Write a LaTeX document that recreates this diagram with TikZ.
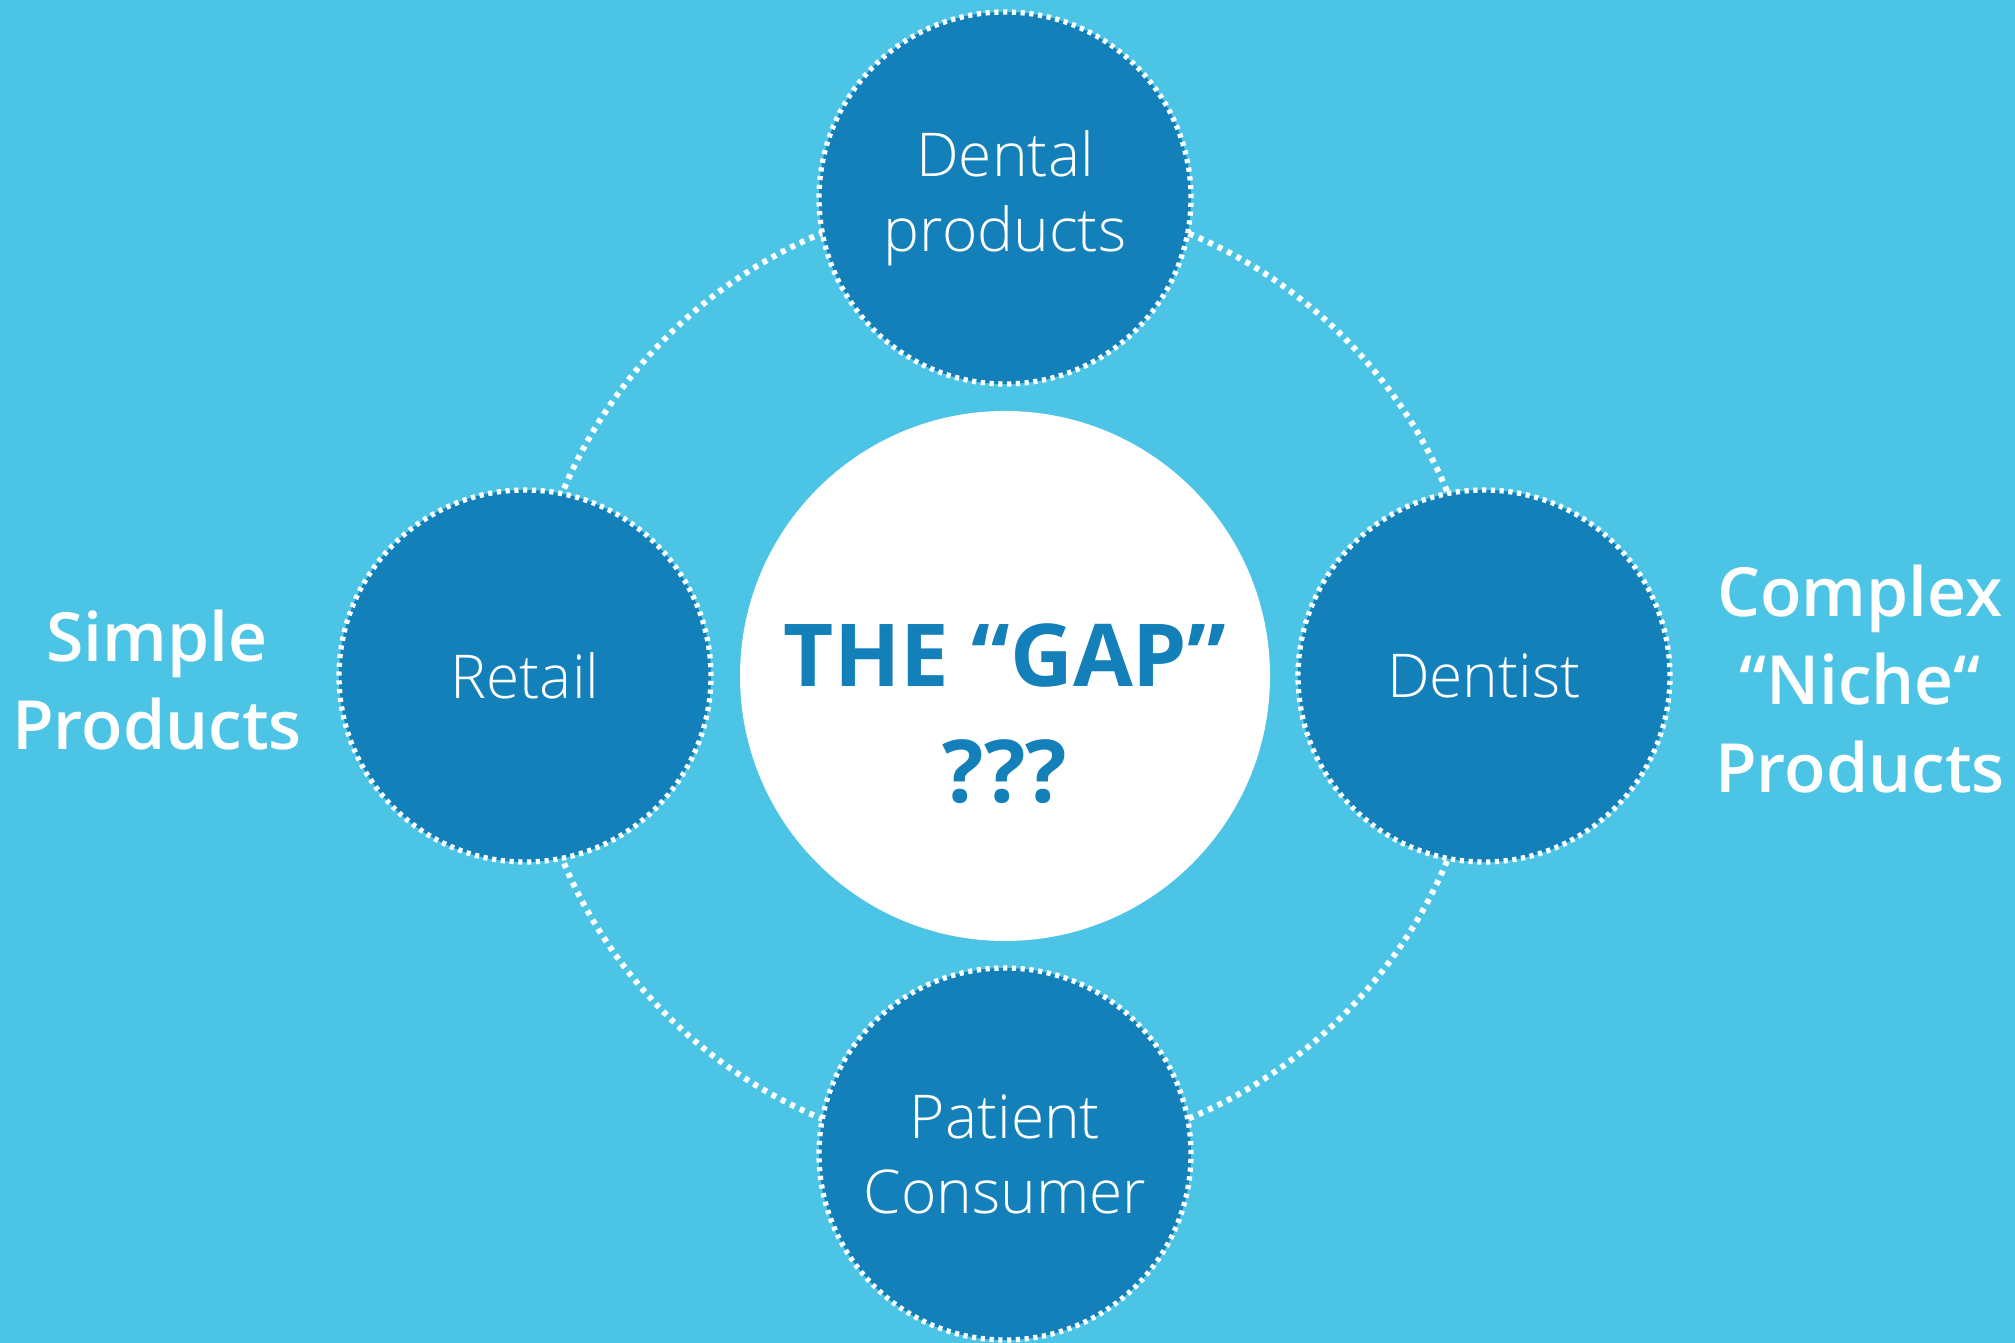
\documentclass[tikz,border=0pt]{standalone}
\usepackage{fontspec}
\setmainfont{Open Sans}
\newfontfamily\lightfont{Open Sans Light}
\newfontfamily\semifont{Open Sans Semibold}
\definecolor{skyblue}{HTML}{4CC4E6}
\definecolor{deepblue}{HTML}{1380BA}
\begin{document}
\begin{tikzpicture}[
	ring/.style={white, line width=1.7pt, dash pattern=on 1.4pt off 1.6pt},
	seg/.style={circle, fill=deepblue, draw=white, line width=1.5pt, dash pattern=on 1.2pt off 1.3pt,
		minimum size=3.72cm, inner sep=0pt, text=white, align=center,
		font=\lightfont\fontsize{17.2}{21.3}\selectfont},
	side/.style={text=white, align=center, font=\semifont\fontsize{19.3}{25}\selectfont}]
	\fill[skyblue] (0, 0) rectangle (20.15, 13.43);
	\useasboundingbox (0, 0) rectangle (20.15, 13.43);

	% outer dotted ring through the four circles
	\coordinate (mid) at (10.05, 6.67);
	\draw[ring] (mid) circle (4.79);

	\node[circle, fill=white, minimum size=5.3cm, inner sep=0pt] (gap) at (mid) {};
	\node[text=deepblue, align=center, font=\bfseries\fontsize{24.7}{33}\selectfont] (gaptext) at (10.05, 6.29) {THE “GAP”\\???};

	\node[seg] (dental) at (10.05, 11.45) {Dental\\products};
	\node[seg] (retail) at (5.25, 6.67) {Retail};
	\node[seg] (dentist) at (14.84, 6.67) {Dentist};
	\node[seg] (patient) at (10.05, 1.89) {Patient\\Consumer};

	\node[side] (simple) at (1.57, 6.63) {Simple\\Products};
	\node[side] (complex) at (18.6, 6.64) {Complex\\“Niche“\\Products};
\end{tikzpicture}
\end{document}
